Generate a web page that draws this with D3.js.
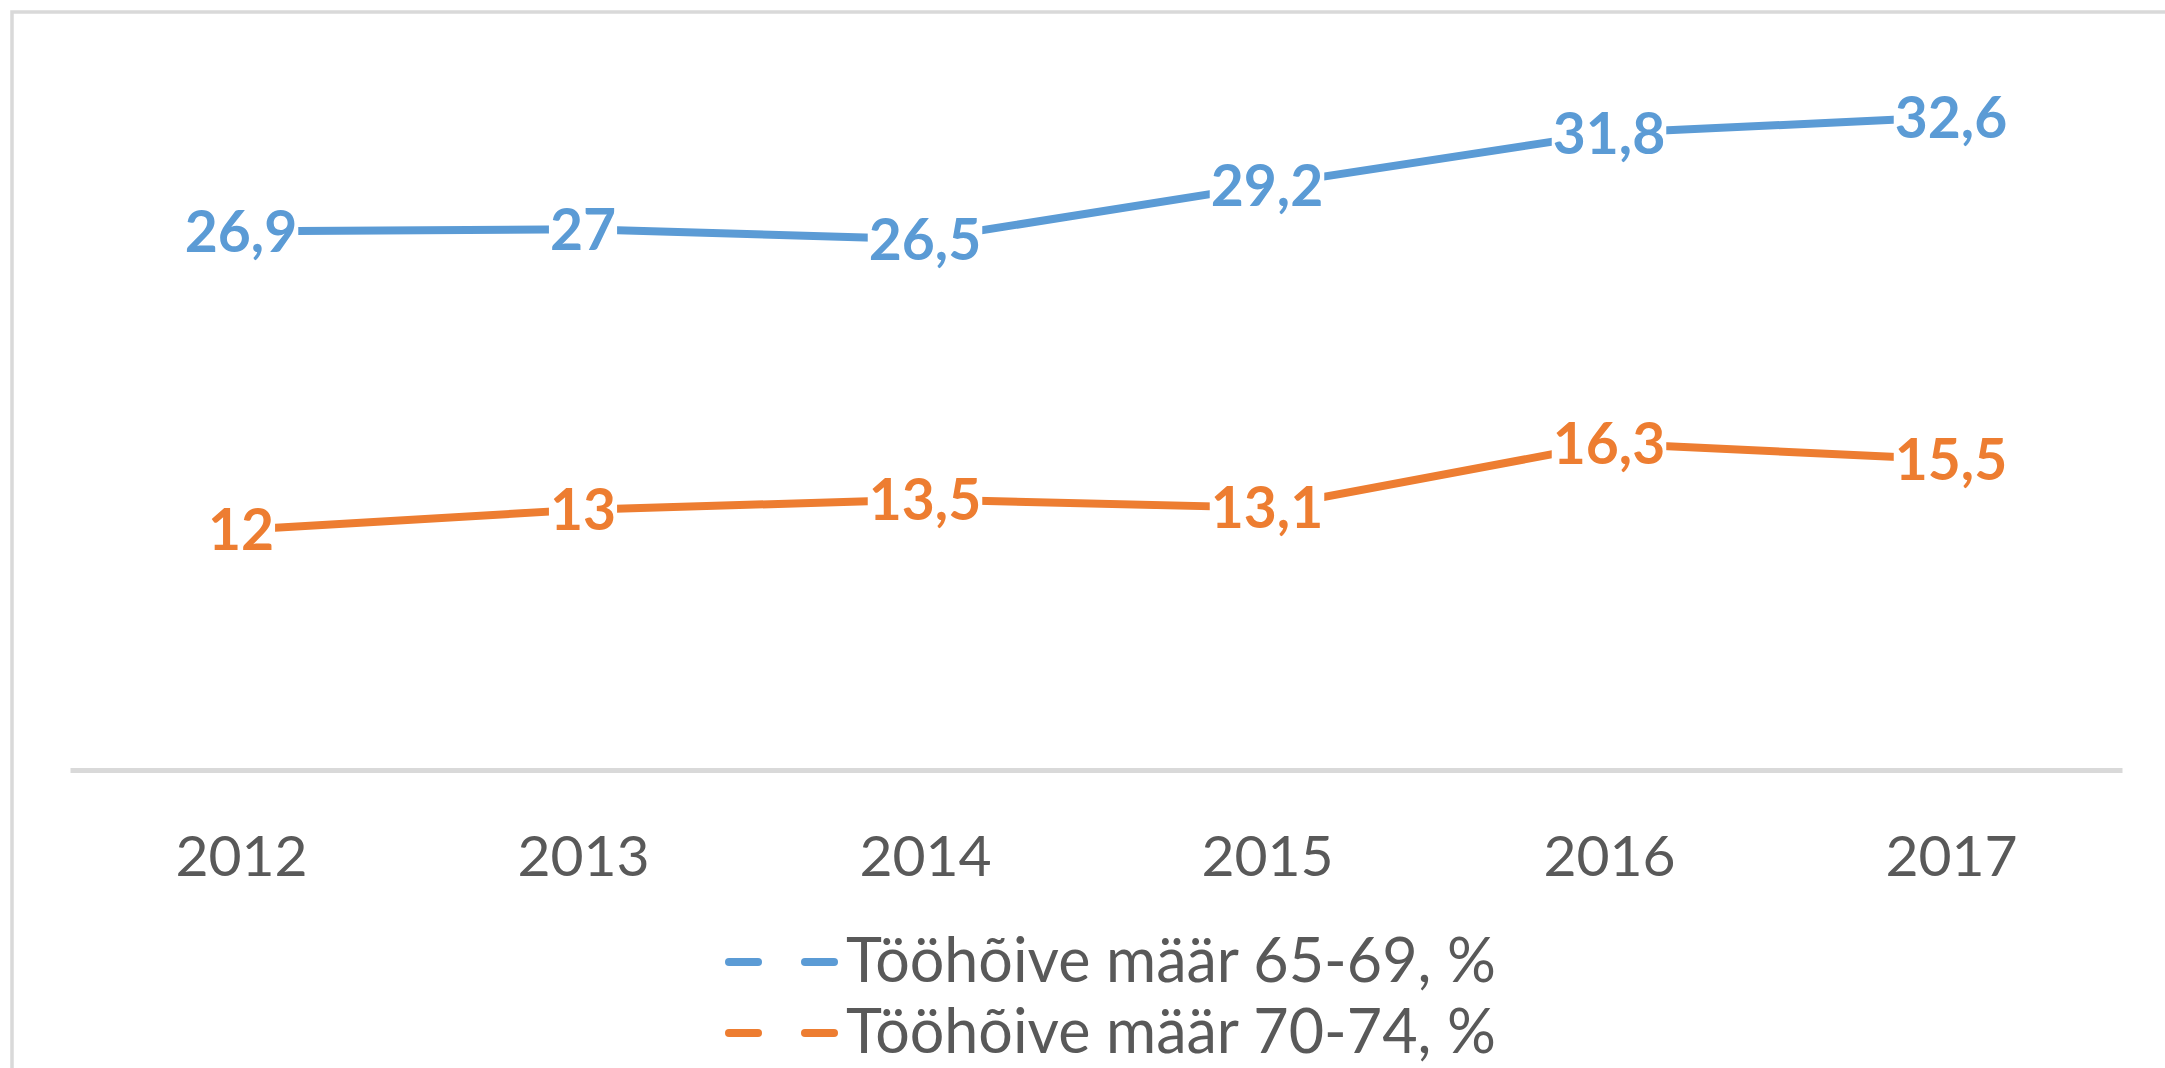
<!DOCTYPE html>
<html>
<head>
<meta charset="utf-8">
<script src="https://cdn.jsdelivr.net/npm/d3@7"></script>
<style>
  body { margin: 0; background: #fff; }
  text { font-family: Lato, "Open Sans", sans-serif; }
</style>
</head>
<body>
<div id="chart"></div>
<script>
// data
const years = ["2012", "2013", "2014", "2015", "2016", "2017"];
const rate6569 = [26.9, 27, 26.5, 29.2, 31.8, 32.6];
const rate7074 = [12, 13, 13.5, 13.1, 16.3, 15.5];
const seriesNames = ["Tööhõive määr 65-69, %", "Tööhõive määr 70-74, %"];
const seriesColors = ["#5b9bd5", "#ed7d31"];

const width = 2165, height = 1068;
const fontSize = 57;

const svg = d3.select("#chart")
  .append("svg")
  .attr("width", width)
  .attr("height", height);

svg.append("rect")
  .attr("width", width)
  .attr("height", height)
  .attr("fill", "#fff");

// chart frame (cut off at right and bottom in the original)
svg.append("rect")
  .attr("x", 12)
  .attr("y", 12)
  .attr("width", width + 20)
  .attr("height", height + 20)
  .attr("fill", "none")
  .attr("stroke", "#d9d9d9")
  .attr("stroke-width", 3.5);

const x = d3.scalePoint()
  .domain(years)
  .range([70, 2122])
  .padding(0.5);

const y = d3.scaleLinear()
  .domain([0, 35])
  .range([770, 69]);

// category axis
const xAxis = svg.append("g")
  .attr("transform", `translate(0,${y(0)})`)
  .call(d3.axisBottom(x).tickSize(0).tickPadding(66).tickSizeOuter(0));

xAxis.select(".domain")
  .attr("stroke", "#d9d9d9")
  .attr("stroke-width", 5);

xAxis.selectAll("text")
  .attr("fill", "#595959")
  .style("font-size", fontSize + "px");

const series = [rate6569, rate7074].map((vals, i) => ({
  name: seriesNames[i],
  color: seriesColors[i],
  values: vals.map((v, j) => ({ year: years[j], value: v }))
}));

const line = d3.line()
  .x(d => x(d.year))
  .y(d => y(d.value));

svg.selectAll("path.series")
  .data(series)
  .enter()
  .append("path")
  .attr("class", "series")
  .attr("d", d => line(d.values))
  .attr("fill", "none")
  .attr("stroke", d => d.color)
  .attr("stroke-width", 8)
  .attr("stroke-linejoin", "round");

// data labels sit centred on the points with a white box that hides the line
const labelGroups = svg.selectAll("g.labels")
  .data(series)
  .enter()
  .append("g")
  .attr("class", "labels");

labelGroups.each(function(s) {
  const g = d3.select(this);
  s.values.forEach(d => {
    const lg = g.append("g");
    const t = lg.append("text")
      .attr("x", x(d.year))
      .attr("y", y(d.value))
      .attr("dy", "0.36em")
      .attr("text-anchor", "middle")
      .attr("fill", s.color)
      .style("font-size", fontSize + "px")
      .style("font-weight", "bold")
      .text(String(d.value).replace(".", ","));
    const bb = t.node().getBBox();
    lg.insert("rect", "text")
      .attr("x", bb.x - 1)
      .attr("y", bb.y + 8)
      .attr("width", bb.width + 2)
      .attr("height", bb.height - 16)
      .attr("fill", "#fff");
  });
});

// legend
const legend = svg.append("g")
  .attr("transform", "translate(725,962)");

const rows = legend.selectAll("g")
  .data(series)
  .enter()
  .append("g")
  .attr("transform", (d, i) => `translate(0,${i * 71})`);

rows.selectAll("line")
  .data(d => [[0, 37], [76, 113]].map(p => ({ p, color: d.color })))
  .enter()
  .append("line")
  .attr("x1", d => d.p[0] + 4)
  .attr("x2", d => d.p[1] - 4)
  .attr("stroke", d => d.color)
  .attr("stroke-width", 8)
  .attr("stroke-linecap", "round");

rows.append("text")
  .attr("x", 121)
  .attr("y", 20)
  .attr("fill", "#595959")
  .style("font-size", "61px")
  .text(d => d.name);
</script>
</body>
</html>
